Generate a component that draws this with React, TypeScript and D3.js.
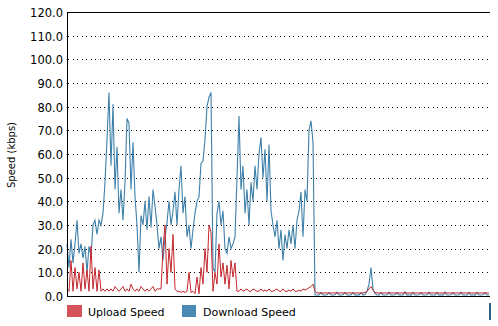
import React from "react";
import * as d3 from "d3";

const yTicks = [0, 10, 20, 30, 40, 50, 60, 70, 80, 90, 100, 110, 120];
const seriesNames = ["Upload Speed", "Download Speed"];

const download = [
  22, 12, 24, 14, 22, 32, 18, 22, 16, 21,
  10, 21, 17, 30, 32, 26, 32, 30, 35, 48,
  66, 86, 55, 81, 45, 63, 35, 45, 32, 48,
  75, 73, 45, 65, 42, 30, 10, 34, 30, 40,
  28, 42, 29, 45, 38, 30, 20, 25, 15, 25,
  31, 40, 30, 36, 44, 30, 45, 55, 35, 42,
  25, 30, 20, 28, 35, 40, 42, 56, 57, 66,
  80, 84, 86, 12, 10, 35, 40, 30, 36, 20,
  18, 25, 20, 22, 25, 50, 76, 45, 55, 35,
  45, 30, 48, 40, 55, 45, 60, 67, 50, 62,
  40, 64, 36, 30, 25, 32, 20, 28, 15, 26,
  20, 28, 22, 30, 20, 32, 36, 44, 25, 45,
  40, 70, 74, 65, 0.5,
  0.4, 0.4, 1.5, 0.4, 0.4, 0.5, 1.4, 0.4, 0.4, 0.5, 1.6, 0.4, 0.4,
  0.5, 1.5, 0.4, 0.4, 0.4, 1.5, 0.4, 0.5, 0.4, 1.4, 0.4, 0.6, 2.0,
  5, 12, 3,
  1.0, 0.4, 0.4, 1.5, 0.4, 0.4, 0.5, 1.6, 0.4, 0.4, 0.5, 1.5, 0.4, 0.4,
  0.4, 1.8, 0.4, 0.5, 0.4, 1.5, 0.4, 0.4, 0.5, 1.4, 0.4, 0.4, 0.5, 1.6,
  0.4, 0.4, 0.4, 1.5, 0.4, 0.5, 0.4, 1.7, 0.4, 0.4, 0.5, 1.4, 0.4, 0.4,
  0.5, 1.6, 0.4, 0.4, 0.4, 1.5, 0.4, 0.5, 0.4, 1.5, 0.4, 0.4, 0.5, 1.4,
  0.4, 0.4,
];

const upload = [
  3, 2, 15, 2, 12, 3, 10, 2, 14, 3,
  11, 2, 21, 3, 12, 2, 11, 2, 3, 2,
  3, 2, 3, 2, 4, 3, 2, 3, 4, 2, 3, 2, 5, 3, 2, 3, 2, 4, 3, 2, 3, 2, 3, 4, 2, 3, 3,
  3, 20, 30, 5, 20, 10, 26, 3, 2, 2,
  1.5, 2, 1.5, 2, 10, 1.5, 2, 1, 8, 1,
  12, 5, 20, 10, 30, 27, 2, 10, 5, 22,
  8, 14, 5, 13, 3, 15, 8, 14, 2,
  2, 3, 2, 2.5, 3, 2, 2, 3, 2.5, 2,
  2, 3, 2, 2.5, 2, 3, 2, 2, 2.5, 3,
  2, 2, 3, 2, 2, 2.5, 2, 3, 2, 2,
  2.5, 2, 3, 2.5, 3, 3.5, 4,
  5, 2,
  1.3, 1.3, 1.2, 1.3, 1.3, 1.3, 1.2, 1.3, 1.3, 1.3, 1.2, 1.3, 1.3,
  1.3, 1.2, 1.3, 1.3, 1.3, 1.2, 1.3, 1.3, 1.3, 1.2, 1.3, 1.5, 2.0,
  3, 4, 2.5,
  1.5, 1.3, 1.3, 1.2, 1.3, 1.3, 1.3, 1.2, 1.3, 1.3,
  1.3, 1.2, 1.3, 1.3, 1.3, 1.2, 1.3, 1.3, 1.3, 1.2,
  1.3, 1.3, 1.3, 1.2, 1.3, 1.3, 1.3, 1.2, 1.3, 1.3,
  1.3, 1.2, 1.3, 1.3, 1.3, 1.2, 1.3, 1.3, 1.3, 1.2,
  1.3, 1.3, 1.3, 1.2, 1.3, 1.3, 1.3, 1.2, 1.3, 1.3,
  1.3, 1.2, 1.3, 1.3, 1.3, 1.2, 1.3, 1.3,
];

const W = 498;
const H = 326;
const left = 67;
const right = 490;
const top = 12;
const bottom = 296;

export default function App() {
  const n = Math.max(download.length, upload.length);
  const x = d3.scaleLinear().domain([0, n - 1]).range([left, right - 1]);
  const y = d3.scaleLinear().domain([0, 120]).range([bottom, top]);
  const line = d3
    .line<number>()
    .x((_, i) => x(i))
    .y((d) => y(d));

  const font = "'DejaVu Sans', Verdana, sans-serif";

  return (
    <svg
      width={W}
      height={H}
      style={{ position: "fixed", left: 0, top: 0, background: "#fff" }}
    >
      <rect x={0} y={0} width={W} height={H} fill="#fff" />
      {yTicks.map((t) => (
        <g key={t}>
          {t !== 0 && t !== 120 && (
            <line
              x1={left + 1}
              x2={right}
              y1={Math.round(y(t)) + 0.5}
              y2={Math.round(y(t)) + 0.5}
              stroke="#000"
              strokeDasharray="1 3.5"
              shapeRendering="crispEdges"
            />
          )}
          <text
            x={63}
            y={Math.round(y(t)) + 0.5}
            dy="0.36em"
            textAnchor="end"
            fontFamily={font}
            fontSize={11.5}
            fill="#000"
          >
            {t.toFixed(1)}
          </text>
        </g>
      ))}
      <line x1={left} x2={right} y1={top + 0.5} y2={top + 0.5} stroke="#000" shapeRendering="crispEdges" />
      <path d={line(download) || ""} fill="none" stroke="#3f80aa" strokeWidth={1.1} />
      <path d={line(upload) || ""} fill="none" stroke="#c4282e" strokeWidth={1} />
      <line x1={left + 0.5} x2={left + 0.5} y1={top} y2={bottom + 1} stroke="#000" shapeRendering="crispEdges" />
      <line x1={left} x2={right} y1={bottom + 0.5} y2={bottom + 0.5} stroke="#000" strokeWidth={1.5} shapeRendering="crispEdges" />
      <text
        transform={`translate(15,155) rotate(-90)`}
        textAnchor="middle"
        fontFamily={font}
        fontSize={10}
        fill="#000"
      >
        Speed (kbps)
      </text>
      <rect x={67} y={305} width={15} height={12} fill="#d6525a" />
      <text x={88} y={316} fontFamily={font} fontSize={11} fill="#000">
        {seriesNames[0]}
      </text>
      <rect x={182} y={305} width={14} height={12} fill="#4a8ab4" />
      <text x={203} y={316} fontFamily={font} fontSize={11} fill="#000">
        {seriesNames[1]}
      </text>
      <rect x={489} y={303} width={2} height={17} fill="#2d5f80" />
    </svg>
  );
}
